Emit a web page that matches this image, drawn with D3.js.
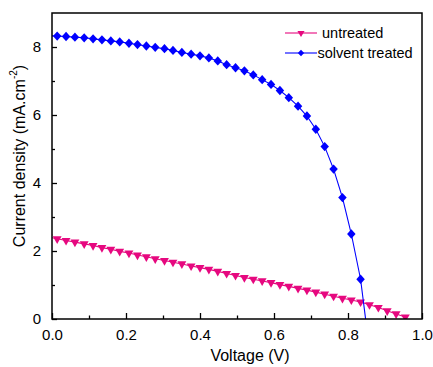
<!DOCTYPE html>
<html>
<head>
<meta charset="utf-8">
<script src="https://cdn.jsdelivr.net/npm/d3@7"></script>
<style>
  html, body { margin: 0; padding: 0; background: #fff; }
  svg { display: block; font-family: "Liberation Sans", Arial, sans-serif; }
</style>
</head>
<body>
<svg id="chart" width="433" height="367"></svg>
<script>
// ---- data ----
const voltage = [-0.010, 0.014, 0.038, 0.062, 0.087, 0.111, 0.135, 0.159, 0.183, 0.208, 0.231,
  0.255, 0.279, 0.304, 0.327, 0.351, 0.376, 0.400, 0.424, 0.448, 0.472,
  0.496, 0.520, 0.544, 0.568, 0.592, 0.616, 0.640, 0.665, 0.689, 0.713,
  0.737, 0.761, 0.785, 0.809, 0.834, 0.858, 0.882, 0.906, 0.930, 0.955];
const untreated = [2.41, 2.36, 2.31, 2.26, 2.21, 2.16, 2.10, 2.05, 1.99, 1.94, 1.88,
  1.83, 1.77, 1.72, 1.67, 1.62, 1.56, 1.51, 1.46, 1.40, 1.34,
  1.28, 1.22, 1.17, 1.12, 1.07, 1.01, 0.96, 0.90, 0.85, 0.79,
  0.73, 0.67, 0.61, 0.56, 0.50, 0.42, 0.34, 0.24, 0.15, 0.06];
const solventTreated = [8.33, 8.32, 8.31, 8.29, 8.27, 8.24, 8.21, 8.18, 8.15, 8.11, 8.07,
  8.03, 7.99, 7.95, 7.90, 7.84, 7.79, 7.74, 7.68, 7.59, 7.48,
  7.39, 7.30, 7.18, 7.04, 6.90, 6.72, 6.51, 6.26, 5.97, 5.58,
  5.07, 4.41, 3.57, 2.50, 1.17, -0.90];
const xTicks = [0.0, 0.2, 0.4, 0.6, 0.8, 1.0];
const xMinorTicks = [0.1, 0.3, 0.5, 0.7, 0.9];
const yTicks = [0, 2, 4, 6, 8];
const yMinorTicks = [1, 3, 5, 7];
const seriesNames = ["untreated", "solvent treated"];

// ---- layout ----
const L = 52, R = 422, T = 13, B = 319;
const svg = d3.select("#chart");
const x = d3.scaleLinear().domain([0, 1.0]).range([L, R]);
const y = d3.scaleLinear().domain([0, 9]).range([B, T]);

const pink = "#E6087F", blue = "#0000FF";

svg.append("defs").append("clipPath").attr("id", "clip")
  .append("rect").attr("x", L).attr("y", T).attr("width", R - L).attr("height", B - T);

const plot = svg.append("g").attr("clip-path", "url(#clip)");

const tri = d3.symbol().type(d3.symbolTriangle).size(34);
const dia = d3.symbol().type(d3.symbolSquare).size(36);

function drawSeries(vals, color, sym, xf) {
  const pts = vals.map((v, i) => [voltage[i], v]);
  plot.append("path")
    .datum(pts)
    .attr("fill", "none")
    .attr("stroke", color)
    .attr("stroke-width", 1.1)
    .attr("d", d3.line().x(d => x(d[0])).y(d => y(d[1])));
  plot.selectAll(null).data(pts).enter().append("path")
    .attr("d", sym)
    .attr("fill", color)
    .attr("transform", d => `translate(${x(d[0])},${y(d[1])})` + xf);
}
drawSeries(untreated, pink, tri, " rotate(180)");
drawSeries(solventTreated, blue, dia, " scale(1,1.1) rotate(45)");

// ---- axes ----
const axisW = 1.5;
const xAxis = svg.append("g").attr("transform", `translate(0,${B})`)
  .call(d3.axisBottom(x).tickValues(xTicks).tickFormat(d3.format(".1f"))
    .tickSizeInner(-6).tickSizeOuter(0).tickPadding(10));
const xMinor = svg.append("g").attr("transform", `translate(0,${B})`)
  .call(d3.axisBottom(x).tickValues(xMinorTicks).tickFormat("").tickSizeInner(-3.5).tickSizeOuter(0));
const yAxis = svg.append("g").attr("transform", `translate(${L},0)`)
  .call(d3.axisLeft(y).tickValues(yTicks).tickFormat(d3.format("d"))
    .tickSizeInner(-5).tickSizeOuter(0).tickPadding(11));
const yMinor = svg.append("g").attr("transform", `translate(${L},0)`)
  .call(d3.axisLeft(y).tickValues(yMinorTicks).tickFormat("").tickSizeInner(-3).tickSizeOuter(0));

[xAxis, xMinor, yAxis, yMinor].forEach(g => {
  g.select(".domain").remove();
  g.selectAll("line").attr("stroke", "#000").attr("stroke-width", 1.3);
  g.selectAll("text").attr("fill", "#000").attr("font-size", 15)
    .attr("font-family", "'Liberation Sans', Arial, sans-serif");
});

// frame
svg.append("rect").attr("x", L).attr("y", T).attr("width", R - L).attr("height", B - T)
  .attr("fill", "none").attr("stroke", "#000").attr("stroke-width", axisW);

// ---- titles ----
svg.append("text").attr("x", 250).attr("y", 361)
  .attr("text-anchor", "middle")
  .attr("font-size", 16).attr("fill", "#000").text("Voltage (V)");

const yt = svg.append("text")
  .attr("transform", "translate(19,156) rotate(-90)")
  .attr("text-anchor", "middle").attr("dominant-baseline", "central")
  .attr("font-size", 16).attr("fill", "#000");
yt.append("tspan").text("Current density (mA.cm");
yt.append("tspan").attr("font-size", 10).attr("dy", -6).text("-2");
yt.append("tspan").attr("dy", 6).text(")");

// ---- legend ----
const legend = [
  { name: seriesNames[0], color: pink, sym: d3.symbol().type(d3.symbolTriangle).size(22), rot: " rotate(180)", ty: 33, tx: 322 },
  { name: seriesNames[1], color: blue, sym: d3.symbol().type(d3.symbolSquare).size(20), rot: " rotate(45)", ty: 53, tx: 317.5 }
];
const lg = svg.append("g");
legend.forEach(d => {
  lg.append("line").attr("x1", 285).attr("x2", 317).attr("y1", d.ty).attr("y2", d.ty)
    .attr("stroke", d.color).attr("stroke-width", 1.1);
  lg.append("path").attr("d", d.sym).attr("fill", d.color)
    .attr("transform", `translate(301,${d.ty})` + d.rot);
  lg.append("text").attr("x", d.tx).attr("y", d.ty).attr("dominant-baseline", "central")
    .attr("font-size", 14.5).attr("fill", "#000").text(d.name);
});
</script>
</body>
</html>
